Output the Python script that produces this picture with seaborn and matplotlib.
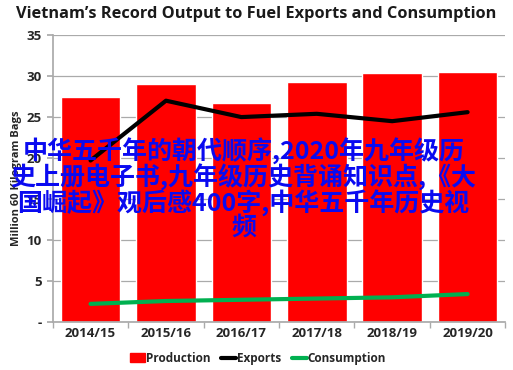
import matplotlib
matplotlib.use("Agg")
import matplotlib.pyplot as plt
import seaborn as sns
import pandas as pd
from matplotlib.lines import Line2D
from matplotlib.patches import Patch

years = ["2014/15", "2015/16", "2016/17", "2017/18", "2018/19", "2019/20"]
production = [27.4, 29.0, 26.7, 29.3, 30.4, 30.5]
exports = [19.7, 27.0, 25.0, 25.4, 24.5, 25.6]
consumption = [2.2, 2.55, 2.7, 2.85, 3.0, 3.4]
yticks = [0, 5, 10, 15, 20, 25, 30, 35]
ytick_labels = ["-", "5", "10", "15", "20", "25", "30", "35"]

title = "Vietnam\u2019s Record Output to Fuel Exports and Consumption"
ylabel = "Million 60 Kilogram Bags"
watermark = ("中华五千年的朝代顺序,2020年九年级历\n史上册电子书,九年级历史背诵知识点,《大\n"
             "国崛起》观后感400字,中华五千年历史视\n频")

df = pd.DataFrame({"year": years, "production": production,
                   "exports": exports, "consumption": consumption})

sns.set_theme(style="white")
plt.rcParams["font.family"] = ["Open Sans", "DejaVu Sans"]

fig = plt.figure(figsize=(5.13, 3.70), dpi=100)
ax = fig.add_axes([0.103, 0.13, 0.882, 0.775])

sns.barplot(data=df, x="year", y="production", color="#FF0000", saturation=1,
            width=0.79, ax=ax, zorder=2)
sns.lineplot(data=df, x="year", y="exports", color="black", linewidth=3,
             ax=ax, zorder=3)
sns.lineplot(data=df, x="year", y="consumption", color="#00B050", linewidth=3,
             ax=ax, zorder=3)

ax.set_xlim(-0.5, len(years) - 0.5)
ax.set_ylim(0, 35)
ax.set_yticks(yticks)
ax.set_yticklabels(ytick_labels, fontsize=9.5, fontweight="bold")
ax.set_xticks(range(len(years)))
ax.set_xticklabels(years, fontsize=9.5, fontweight="bold")
ax.set_xlabel("")
ax.set_ylabel(ylabel, fontsize=8, fontweight="bold", labelpad=3)
ax.yaxis.grid(True, color="#AAAAAA", linewidth=0.9, zorder=0)
ax.set_axisbelow(True)
for s in ["top", "right"]:
    ax.spines[s].set_visible(False)
ax.spines["left"].set_color("#AAAAAA")
ax.spines["bottom"].set_color("#AAAAAA")
ax.tick_params(axis="both", length=0, pad=4)
ax.set_xticks([i + 0.5 for i in range(-1, len(years))], minor=True)
ax.tick_params(axis="x", which="minor", length=4, color="#AAAAAA", bottom=True)
ax.tick_params(axis="y", left=True, length=4, color="#AAAAAA")

fig.text(0.5, 0.962, title, ha="center", va="center", fontsize=11.8,
         fontweight="bold", color="#1A1A1A")

handles = [Patch(color="#FF0000", label="Production"),
           Line2D([], [], color="black", linewidth=3, label="Exports"),
           Line2D([], [], color="#00B050", linewidth=3, label="Consumption")]
leg = fig.legend(handles=handles, loc="center", bbox_to_anchor=(0.503, 0.032),
                 ncol=3, frameon=False, fontsize=8.5, handlelength=1.3,
                 handletextpad=0.05, columnspacing=0.9)
for t in leg.get_texts():
    t.set_fontweight("bold")

fig.text(0.475, 0.49, watermark, ha="center", va="center", fontsize=18,
         color="#0A0AF0", family=["Noto Sans CJK SC", "DejaVu Sans"],
         fontweight="bold", linespacing=0.95, zorder=10)

fig.savefig("out.png", dpi=100)
